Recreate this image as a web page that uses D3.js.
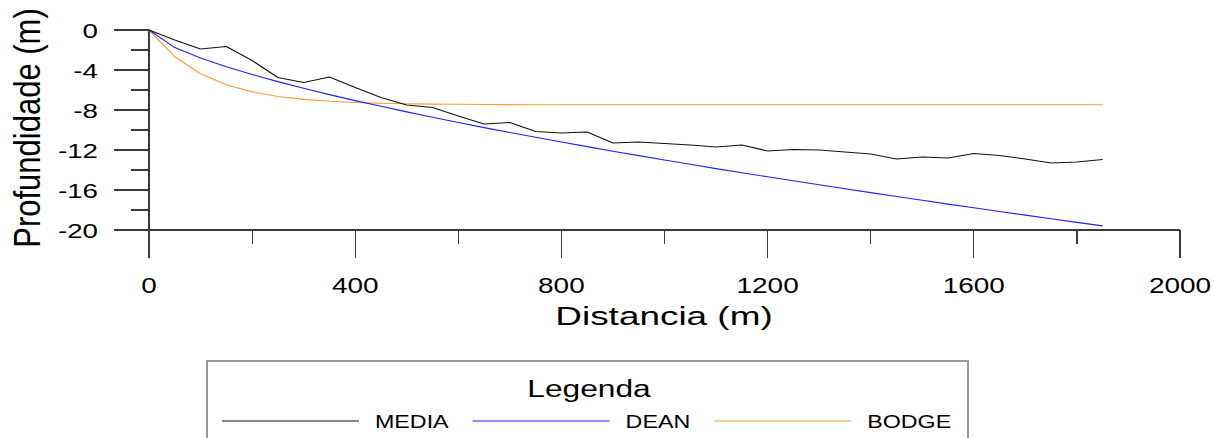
<!DOCTYPE html>
<html>
<head>
<meta charset="utf-8">
<script src="https://cdn.jsdelivr.net/npm/d3@7"></script>
<style>
  html, body { margin: 0; padding: 0; background: #fff; }
  svg { display: block; }
  text { font-family: "Liberation Sans", Arial, Helvetica, sans-serif; fill: #000; }
</style>
</head>
<body>
<svg id="chart" width="1215" height="438"></svg>
<script>
// Distance along the profile (m), sampled every 50 m
const distancia = [0, 50, 100, 150, 200, 250, 300, 350, 400, 450, 500, 550, 600, 650, 700, 750, 800, 850, 900, 950,
  1000, 1050, 1100, 1150, 1200, 1250, 1300, 1350, 1400, 1450, 1500, 1550, 1600, 1650, 1700, 1750, 1800, 1850];

// Mean measured profile depth (m)
const media = [0, -1.0, -1.9, -1.65, -3.05, -4.75, -5.25, -4.7, -5.75, -6.75, -7.5, -7.75, -8.6, -9.4, -9.25, -10.15,
  -10.3, -10.2, -11.3, -11.2, -11.35, -11.5, -11.7, -11.5, -12.1, -11.95, -12.0, -12.2, -12.4, -12.9, -12.7, -12.8,
  -12.35, -12.55, -12.9, -13.3, -13.2, -12.95];

// Dean equilibrium profile depth (m)
const dean = [0, -1.76, -2.80, -3.67, -4.45, -5.16, -5.83, -6.46, -7.06, -7.63, -8.19, -8.73, -9.25, -9.76, -10.25,
  -10.73, -11.20, -11.66, -12.12, -12.56, -13.00, -13.43, -13.86, -14.27, -14.68, -15.08, -15.48, -15.87, -16.26,
  -16.65, -17.03, -17.41, -17.78, -18.15, -18.51, -18.88, -19.24, -19.59];

// Bodge profile depth (m)
const bodge = [0, -2.67, -4.38, -5.48, -6.19, -6.65, -6.94, -7.13, -7.25, -7.33, -7.38, -7.41, -7.43, -7.45, -7.46,
  -7.47, -7.47, -7.47, -7.47, -7.47, -7.47, -7.47, -7.47, -7.47, -7.47, -7.47, -7.47, -7.47, -7.47, -7.47, -7.47,
  -7.47, -7.47, -7.47, -7.47, -7.47, -7.47, -7.47];

const seriesNames = ["MEDIA", "DEAN", "BODGE"];
const xTickValues = [0, 200, 400, 600, 800, 1000, 1200, 1400, 1600, 1800, 2000];
const xTickLabels = ["0", "", "400", "", "800", "", "1200", "", "1600", "", "2000"];
const yTickValues = [0, -2, -4, -6, -8, -10, -12, -14, -16, -18, -20];
const yTickLabels = ["0", "", "-4", "", "-8", "", "-12", "", "-16", "", "-20"];

const svg = d3.select("#chart");
const colors = { MEDIA: "#111111", DEAN: "#1f1fff", BODGE: "#ff9a33" };
const axisColor = "#3a3a3a";

const x = d3.scaleLinear().domain([0, 2000]).range([149, 1180]);
const y = d3.scaleLinear().domain([-20, 0]).range([230, 30]);

// Text drawn with a horizontal stretch, as in the original plotting package output
function stretchedText(parent, px, py, str, size, sx, anchor) {
  return parent.append("text")
    .attr("transform", `translate(${px},${py}) scale(${sx},1)`)
    .attr("text-anchor", anchor)
    .style("font-size", size + "px")
    .text(str);
}

// ---- Axes ----
const axes = svg.append("g").attr("stroke", axisColor).attr("stroke-width", 1.2)
  .attr("shape-rendering", "crispEdges");

// x axis baseline (extends left to meet the -20 tick)
axes.append("line").attr("x1", 114).attr("x2", x(2000)).attr("y1", y(-20)).attr("y2", y(-20));
// y axis line
axes.append("line").attr("x1", x(0)).attr("x2", x(0)).attr("y1", y(0)).attr("y2", y(-20));

xTickValues.forEach((v, i) => {
  const major = xTickLabels[i] !== "";
  axes.append("line").attr("x1", x(v)).attr("x2", x(v))
    .attr("y1", y(-20)).attr("y2", y(-20) + (major ? 28 : 14));
});
yTickValues.forEach((v, i) => {
  const major = yTickLabels[i] !== "";
  axes.append("line").attr("x1", x(0) - (major ? 35 : 18)).attr("x2", x(0))
    .attr("y1", y(v)).attr("y2", y(v));
});

const labels = svg.append("g");
xTickValues.forEach((v, i) => {
  if (xTickLabels[i] !== "") stretchedText(labels, x(v), 293, xTickLabels[i], 21.5, 1.3, "middle");
});
yTickValues.forEach((v, i) => {
  if (yTickLabels[i] !== "") stretchedText(labels, 98, y(v) + 7.5, yTickLabels[i], 21, 1.32, "end");
});

// Axis titles
stretchedText(labels, 664, 325, "Distancia (m)", 26, 1.42, "middle");
labels.append("text")
  .attr("transform", "translate(40,128) scale(1.2,1) rotate(-90)")
  .attr("text-anchor", "middle")
  .style("font-size", "31px")
  .text("Profundidade (m)");

// ---- Lines ----
const seriesData = { MEDIA: media, DEAN: dean, BODGE: bodge };
const lineGen = d3.line().x(d => x(d[0])).y(d => y(d[1]));
const plot = svg.append("g").attr("fill", "none");
["BODGE", "DEAN", "MEDIA"].forEach(name => {
  const pts = distancia.map((d, i) => [d, seriesData[name][i]]);
  plot.append("path").datum(pts)
    .attr("d", lineGen)
    .attr("stroke", colors[name])
    .attr("stroke-width", 1.1)
    .attr("stroke-linejoin", "round");
});

// ---- Legend ----
const legend = svg.append("g");
legend.append("rect")
  .attr("x", 207).attr("y", 361).attr("width", 761).attr("height", 100)
  .attr("fill", "#fff").attr("stroke", "#7a7a7a").attr("stroke-width", 1.5);
stretchedText(legend, 589, 397, "Legenda", 23, 1.38, "middle");

let lx = 222;
seriesNames.forEach(name => {
  legend.append("line")
    .attr("x1", lx).attr("x2", lx + 137).attr("y1", 421).attr("y2", 421)
    .attr("stroke", colors[name]).attr("stroke-width", 1.1);
  const t = stretchedText(legend, lx + 153, 428, name, 18.6, 1.25, "start");
  const w = t.node().getComputedTextLength() * 1.25;
  lx = lx + 153 + w + 24;
});
</script>
</body>
</html>
